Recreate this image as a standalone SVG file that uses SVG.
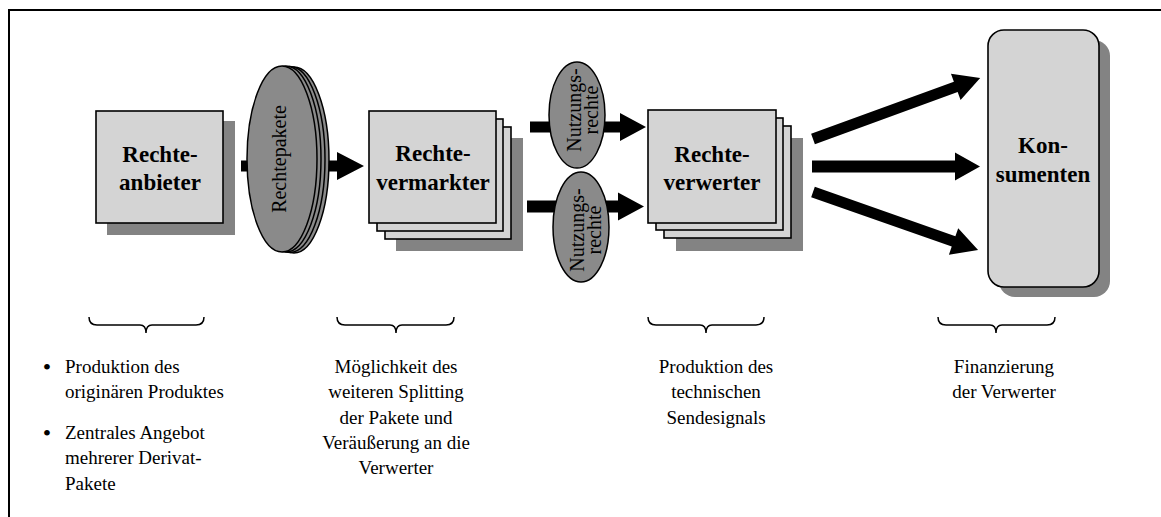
<svg xmlns="http://www.w3.org/2000/svg" width="1161" height="517" viewBox="0 0 1161 517">
  <style>
    .box { fill: #d4d4d4; stroke: #000; stroke-width: 1.6; }
    .shadow { fill: #838383; stroke: none; }
    .disc { fill: #8a8a8a; stroke: #000; stroke-width: 1.5; }
    .arrow { fill: #000; stroke: none; }
    .brace { fill: none; stroke: #000; stroke-width: 1.5; }
    .lbl { font-family: "Liberation Serif", "Times New Roman", serif; font-weight: bold; font-size: 23px; text-anchor: middle; fill: #000; }
    .vlbl { font-family: "Liberation Serif", "Times New Roman", serif; font-size: 20px; text-anchor: middle; fill: #000; }
    .note { font-family: "Liberation Serif", "Times New Roman", serif; font-size: 19px; fill: #000; }
    .bullet { font-family: "Liberation Serif", "Times New Roman", serif; font-size: 24px; fill: #000; text-anchor: middle; }
    .c { text-anchor: middle; }
  </style>

  <rect x="0" y="0" width="1161" height="517" fill="#fff"/>
  <!-- outer frame (top and left edge) -->
  <path d="M1161,10 H9 V517" fill="none" stroke="#000" stroke-width="2"/>

  <g id="connectors">
    <!-- Rechteanbieter -> Rechtepakete -> Rechtevermarkter -->
    <path class="arrow" d="M241,160.5 H337 V152 L364,166 L337,180 V171.5 H241 Z"/>
    <!-- Rechtevermarkter -> Nutzungsrechte -> Rechteverwerter -->
    <path class="arrow" d="M530,121.5 H620 V113 L646,127 L620,141 V132.5 H530 Z"/>
    <path class="arrow" d="M527,200.5 H618 V192.5 L644,206.5 L618,220.5 V212.5 H527 Z"/>
    <!-- Rechteverwerter -> Konsumenten -->
    <path class="arrow" transform="translate(813,139) rotate(-20.07)" d="M0,-5.5 H152 V-14 L178,0 L152,14 V5.5 H0 Z"/>
    <path class="arrow" d="M812,160.5 H955 V152.5 L980,166.5 L955,180.5 V172.5 H812 Z"/>
    <path class="arrow" transform="translate(813,192) rotate(19.37)" d="M0,-5.5 H149 V-14 L175,0 L149,14 V5.5 H0 Z"/>
  </g>

  <g id="rechteanbieter">
    <rect class="shadow" x="107" y="121" width="128" height="114"/>
    <rect class="box" x="96" y="111" width="127" height="112"/>
    <text class="lbl" x="160" y="162">Rechte-</text>
    <text class="lbl" x="160" y="190">anbieter</text>
  </g>

  <g id="rechtepakete">
    <ellipse class="disc" cx="294" cy="160" rx="35" ry="93"/>
    <ellipse class="disc" cx="290" cy="159.5" rx="35" ry="93"/>
    <ellipse class="disc" cx="286" cy="159" rx="35" ry="93"/>
    <ellipse class="disc" cx="282" cy="159" rx="35" ry="93"/>
    <text class="vlbl" transform="translate(286,159) rotate(-90)" font-size="21">Rechtepakete</text>
  </g>

  <g id="rechtevermarkter">
    <rect class="shadow" x="396" y="138" width="127" height="113"/>
    <rect class="box" x="385" y="127" width="126" height="112"/>
    <rect class="box" x="377" y="119" width="126" height="112"/>
    <rect class="box" x="369" y="111" width="127" height="112"/>
    <text class="lbl" x="433" y="161">Rechte-</text>
    <text class="lbl" x="433" y="190">vermarkter</text>
  </g>

  <g id="nutzungsrechte-1">
    <ellipse class="disc" cx="577" cy="115" rx="28" ry="53"/>
    <text class="vlbl" transform="translate(581,110) rotate(-90)" font-size="19">Nutzungs-</text>
    <text class="vlbl" transform="translate(598,110) rotate(-90)" font-size="19">rechte</text>
  </g>

  <g id="nutzungsrechte-2">
    <ellipse class="disc" cx="581" cy="227" rx="28" ry="55"/>
    <text class="vlbl" transform="translate(584,230) rotate(-90)" font-size="19">Nutzungs-</text>
    <text class="vlbl" transform="translate(601,230) rotate(-90)" font-size="19">rechte</text>
  </g>

  <g id="rechteverwerter">
    <rect class="shadow" x="676" y="138" width="127" height="113"/>
    <rect class="box" x="664" y="126" width="127" height="112"/>
    <rect class="box" x="656" y="118" width="127" height="112"/>
    <rect class="box" x="648" y="110" width="128" height="113"/>
    <text class="lbl" x="712" y="162">Rechte-</text>
    <text class="lbl" x="712" y="190">verwerter</text>
  </g>

  <g id="konsumenten">
    <rect class="shadow" x="999" y="40" width="111" height="257" rx="16"/>
    <rect class="box" x="988" y="30" width="111" height="257" rx="16"/>
    <text class="lbl" x="1043" y="153">Kon-</text>
    <text class="lbl" x="1043" y="182">sumenten</text>
  </g>

  <g id="braces">
    <path class="brace" d="M89,317 Q89,325 97,325 H140 Q146,325 146,333 Q146,325 152,325 H196 Q204,325 204,317"/>
    <path class="brace" d="M337,317 Q337,325 345,325 H390 Q396,325 396,333 Q396,325 402,325 H446 Q454,325 454,317"/>
    <path class="brace" d="M648,317 Q648,325 656,325 H700 Q706,325 706,333 Q706,325 712,325 H756 Q764,325 764,317"/>
    <path class="brace" d="M938,317 Q938,325 946,325 H990 Q996,325 996,333 Q996,325 1002,325 H1047 Q1055,325 1055,317"/>
  </g>

  <g id="notes">
    <text class="bullet" x="47" y="375">•</text>
    <text class="note" x="65" y="373">Produktion des</text>
    <text class="note" x="65" y="398">originären Produktes</text>
    <text class="bullet" x="47" y="441">•</text>
    <text class="note" x="65" y="439">Zentrales Angebot</text>
    <text class="note" x="65" y="464">mehrerer Derivat-</text>
    <text class="note" x="65" y="490">Pakete</text>

    <text class="note c" x="396" y="373">Möglichkeit des</text>
    <text class="note c" x="396" y="398">weiteren Splitting</text>
    <text class="note c" x="396" y="424">der Pakete und</text>
    <text class="note c" x="396" y="449">Veräußerung an die</text>
    <text class="note c" x="396" y="474">Verwerter</text>

    <text class="note c" x="716" y="373">Produktion des</text>
    <text class="note c" x="716" y="398">technischen</text>
    <text class="note c" x="716" y="424">Sendesignals</text>

    <text class="note c" x="1004" y="373">Finanzierung</text>
    <text class="note c" x="1004" y="398">der Verwerter</text>
  </g>
</svg>
